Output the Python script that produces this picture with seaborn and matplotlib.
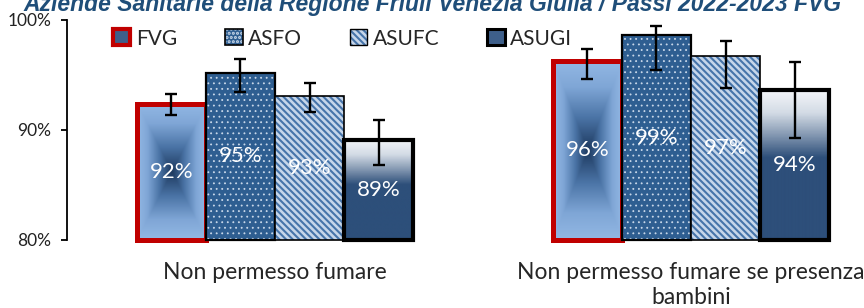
import numpy as np
import pandas as pd
import seaborn as sns
import matplotlib.pyplot as plt
from matplotlib.colors import LinearSegmentedColormap, to_rgba
from matplotlib.patches import Patch

# dati (percentuali)
categorie = ['Non permesso fumare', 'Non permesso fumare se presenza\nbambini']
aree = ['FVG', 'ASFO', 'ASUFC', 'ASUGI']
fvg = [92.4, 96.3]
asfo = [95.2, 98.6]
asufc = [93.1, 96.7]
asugi = [89.1, 93.6]
# intervalli di confidenza
fvg_ci = [(91.4, 93.3), (94.6, 97.4)]
asfo_ci = [(93.5, 96.5), (95.5, 99.5)]
asufc_ci = [(91.6, 94.3), (93.8, 98.1)]
asugi_ci = [(86.8, 90.9), (89.3, 96.2)]
y_ticks = [80, 90, 100]
titolo = 'Aziende Sanitarie della Regione Friuli Venezia Giulia / Passi 2022-2023 FVG'

valori = {'FVG': fvg, 'ASFO': asfo, 'ASUFC': asufc, 'ASUGI': asugi}
ci = {'FVG': fvg_ci, 'ASFO': asfo_ci, 'ASUFC': asufc_ci, 'ASUGI': asugi_ci}

rows = []
for a in aree:
    for c, v in zip(categorie, valori[a]):
        rows.append({'categoria': c, 'asl': a, 'valore': v})
df = pd.DataFrame(rows)

sns.set_style('white')
plt.rcParams['font.family'] = ['Lato', 'DejaVu Sans']
plt.rcParams['hatch.linewidth'] = 1.5

RED = '#C00000'
ASFO_FACE = '#2E5E91'
ASFO_DOT = '#C9D8EA'
ASUFC_FACE = '#C6D6EA'
ASUFC_STRIPE = '#4674AA'
NAVY = '#2D4F7A'


def hatch_lw(patch, lw):
    if hasattr(patch, 'set_hatch_linewidth'):
        patch.set_hatch_linewidth(lw)


fig = plt.figure(figsize=(8.64, 3.08), dpi=100)
ax = fig.add_axes([67 / 864, 68 / 308, 832 / 864, 220 / 308])

sns.barplot(data=df, x='categoria', y='valore', hue='asl', order=categorie,
            hue_order=aree, width=0.664, gap=0, errorbar=None, legend=False,
            ax=ax)

base = y_ticks[0]
fvg_cmap = LinearSegmentedColormap.from_list(
    'fvg', [(0, '#1E3A60'), (0.35, '#4A73A5'), (0.7, '#7FA6D6'),
            (1, '#93B8E4')])
ugi_cmap = LinearSegmentedColormap.from_list(
    'ugi', [(0, '#F4F6F9'), (0.15, '#D3DBE5'), (0.3, '#8397B1'),
            (0.45, NAVY), (1, NAVY)])

gx, gy = np.meshgrid(np.linspace(-1, 1, 120), np.linspace(-1, 1, 300))
radial = np.maximum(np.abs(gx), np.abs(gy))
vert = np.linspace(0, 1, 300)[:, None] * np.ones((1, 10))

for area, cont in zip(aree, ax.containers):
    for j, bar in enumerate(cont.patches):
        v = valori[area][j]
        bar.set_y(base)
        bar.set_height(v - base)
        bar.set_clip_on(False)
        x0 = bar.get_x()
        x1 = x0 + bar.get_width()
        if area == 'FVG':
            bar.set_facecolor('none')
            bar.set_edgecolor(RED)
            bar.set_linewidth(3.6)
            im = ax.imshow(radial, cmap=fvg_cmap, extent=(x0, x1, base, v),
                           aspect='auto', origin='lower', zorder=0.8)
            im.set_clip_path(bar)
        elif area == 'ASFO':
            bar.set_facecolor(ASFO_FACE)
            bar.set_edgecolor('black')
            bar.set_linewidth(1.6)
            bar.set_hatch('...')
            hatch_lw(bar, 0.6)
            bar._hatch_color = to_rgba(ASFO_DOT)
        elif area == 'ASUFC':
            bar.set_facecolor(ASUFC_FACE)
            bar.set_edgecolor('black')
            bar.set_linewidth(1.2)
            bar.set_hatch('\\\\\\\\\\')
            hatch_lw(bar, 1.5)
            bar._hatch_color = to_rgba(ASUFC_STRIPE)
        else:
            bar.set_facecolor('none')
            bar.set_edgecolor('black')
            bar.set_linewidth(3.0)
            im = ax.imshow(vert, cmap=ugi_cmap, extent=(x0, x1, base, v),
                           aspect='auto', origin='upper', zorder=0.8)
            im.set_clip_path(bar)
        cx = x0 + bar.get_width() / 2
        lo, hi = ci[area][j]
        ax.errorbar(cx, v, yerr=[[v - lo], [hi - v]], fmt='none',
                    ecolor='black', elinewidth=1.7, capsize=4.5,
                    capthick=1.7, zorder=5, clip_on=False)
        ax.text(cx, base + (v - base) / 2, f'{v:.0f}%', color='white',
                ha='center', va='center', fontsize=16, zorder=6)

ax.set_xlim(-0.5, 1.5)
ax.set_ylim(80, 100)
ax.set_yticks(y_ticks)
ax.set_yticklabels([f'{t}%' for t in y_ticks], fontsize=12.5, color='#222222')
ax.tick_params(axis='y', direction='out', length=4, width=1.3, color='black',
               left=True, pad=7.5)
ax.tick_params(axis='x', length=0, labelsize=16.5, pad=16)
ax.set_xlabel('')
ax.set_ylabel('')
sns.despine(ax=ax, top=True, right=True, bottom=True)
ax.spines['left'].set_linewidth(1.3)
ax.spines['left'].set_color('black')

handles = [
    Patch(facecolor='#3E5F8A', edgecolor=RED, linewidth=3.0, label='FVG'),
    Patch(facecolor=ASFO_FACE, edgecolor='black', linewidth=1.2, hatch='....',
          label='ASFO'),
    Patch(facecolor=ASUFC_FACE, edgecolor='black', linewidth=1.0,
          hatch='\\\\\\\\\\', label='ASUFC'),
    Patch(facecolor='#3E5F8A', edgecolor='black', linewidth=2.2, label='ASUGI'),
]
handles[1]._hatch_color = to_rgba(ASFO_DOT)
handles[2]._hatch_color = to_rgba(ASUFC_STRIPE)
ax.legend(handles=handles, loc='center left', bbox_to_anchor=(0.045, 0.915),
          ncol=4, frameon=False, fontsize=15, handlelength=0.85,
          handleheight=0.8, handletextpad=0.25, columnspacing=2.3,
          borderaxespad=0)

fig.text(0.5, 1 - 11 / 308, titolo, ha='center', va='baseline',
         fontsize=16.5, fontweight='bold', fontstyle='italic', color='#1F4E79',
         family=['Liberation Sans', 'DejaVu Sans'])

fig.savefig('out.png', dpi=100)
